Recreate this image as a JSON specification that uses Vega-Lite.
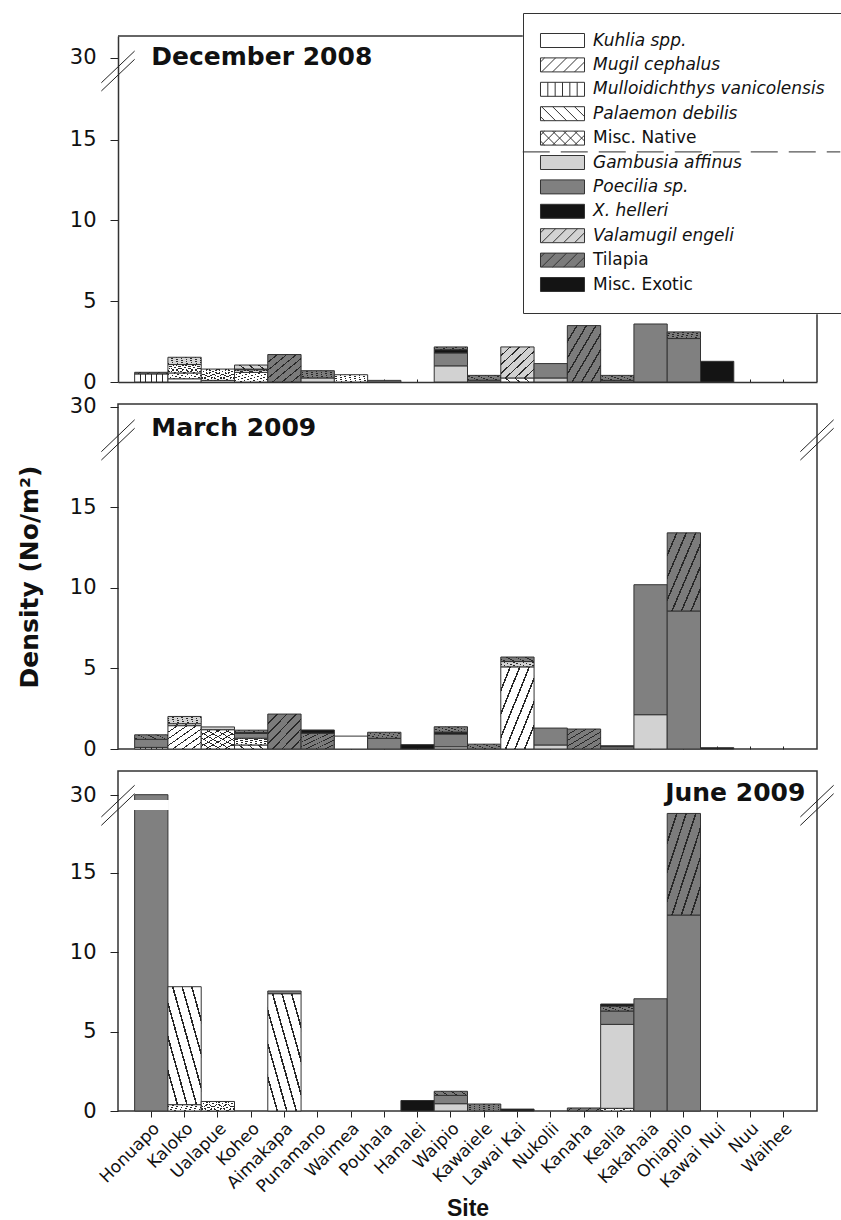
{
  "$schema": "https://vega.github.io/schema/vega-lite/v6.json",
  "background": "white",
  "padding": {"left": 16, "top": 12, "right": 0, "bottom": 0},
  "bounds": "flush",
  "spacing": 22,
  "config": {
    "view": {"stroke": "#333", "strokeWidth": 1.5},
    "axis": {"grid": false, "labelFont": "DejaVu Sans", "labelColor": "#111", "tickColor": "#222", "domainColor": "#333", "domainWidth": 1.5, "titleColor": "#111"}
  },
  "resolve": {"scale": {"fill": "independent"}, "legend": {"fill": "independent"}},
  "datasets": {
    "species": [
      {"species": "Kuhlia spp.", "rank": 1},
      {"species": "Mugil cephalus", "rank": 2},
      {"species": "Mulloidichthys vanicolensis", "rank": 3},
      {"species": "Palaemon debilis", "rank": 4},
      {"species": "Misc. Native", "rank": 5},
      {"species": "Gambusia affinus", "rank": 6},
      {"species": "Poecilia sp.", "rank": 7},
      {"species": "X. helleri", "rank": 8},
      {"species": "Valamugil engeli", "rank": 9},
      {"species": "Tilapia", "rank": 10},
      {"species": "Misc. Exotic", "rank": 11}
    ],
    "fish": [
      {"month": "Dec", "site": "Honuapo", "species": "Mulloidichthys vanicolensis", "value": 0.5},
      {"month": "Dec", "site": "Honuapo", "species": "Tilapia", "value": 0.1},
      {"month": "Dec", "site": "Kaloko", "species": "Kuhlia spp.", "value": 0.2},
      {"month": "Dec", "site": "Kaloko", "species": "Mugil cephalus", "value": 0.36},
      {"month": "Dec", "site": "Kaloko", "species": "Misc. Native", "value": 0.52},
      {"month": "Dec", "site": "Kaloko", "species": "Valamugil engeli", "value": 0.45},
      {"month": "Dec", "site": "Ualapue", "species": "Kuhlia spp.", "value": 0.1},
      {"month": "Dec", "site": "Ualapue", "species": "Misc. Native", "value": 0.7},
      {"month": "Dec", "site": "Koheo", "species": "Mugil cephalus", "value": 0.6},
      {"month": "Dec", "site": "Koheo", "species": "Misc. Native", "value": 0.15},
      {"month": "Dec", "site": "Koheo", "species": "Poecilia sp.", "value": 0.05},
      {"month": "Dec", "site": "Koheo", "species": "Valamugil engeli", "value": 0.25},
      {"month": "Dec", "site": "Aimakapa", "species": "Tilapia", "value": 1.7},
      {"month": "Dec", "site": "Punamano", "species": "Gambusia affinus", "value": 0.25},
      {"month": "Dec", "site": "Punamano", "species": "Tilapia", "value": 0.45},
      {"month": "Dec", "site": "Waimea", "species": "Mugil cephalus", "value": 0.45},
      {"month": "Dec", "site": "Pouhala", "species": "Poecilia sp.", "value": 0.1},
      {"month": "Dec", "site": "Waipio", "species": "Gambusia affinus", "value": 1.0},
      {"month": "Dec", "site": "Waipio", "species": "Poecilia sp.", "value": 0.8},
      {"month": "Dec", "site": "Waipio", "species": "X. helleri", "value": 0.2},
      {"month": "Dec", "site": "Waipio", "species": "Tilapia", "value": 0.17},
      {"month": "Dec", "site": "Kawaiele", "species": "Poecilia sp.", "value": 0.11},
      {"month": "Dec", "site": "Kawaiele", "species": "Tilapia", "value": 0.3},
      {"month": "Dec", "site": "Lawai Kai", "species": "Mugil cephalus", "value": 0.25},
      {"month": "Dec", "site": "Lawai Kai", "species": "Valamugil engeli", "value": 1.92},
      {"month": "Dec", "site": "Nukolii", "species": "Gambusia affinus", "value": 0.25},
      {"month": "Dec", "site": "Nukolii", "species": "Poecilia sp.", "value": 0.89},
      {"month": "Dec", "site": "Kanaha", "species": "Tilapia", "value": 3.49},
      {"month": "Dec", "site": "Kealia", "species": "Poecilia sp.", "value": 0.1},
      {"month": "Dec", "site": "Kealia", "species": "Tilapia", "value": 0.31},
      {"month": "Dec", "site": "Kakahaia", "species": "Poecilia sp.", "value": 3.59},
      {"month": "Dec", "site": "Ohiapilo", "species": "Poecilia sp.", "value": 2.69},
      {"month": "Dec", "site": "Ohiapilo", "species": "Tilapia", "value": 0.41},
      {"month": "Dec", "site": "Kawai Nui", "species": "Misc. Exotic", "value": 1.28},

      {"month": "Mar", "site": "Honuapo", "species": "Mulloidichthys vanicolensis", "value": 0.1},
      {"month": "Mar", "site": "Honuapo", "species": "Poecilia sp.", "value": 0.5},
      {"month": "Mar", "site": "Honuapo", "species": "Tilapia", "value": 0.28},
      {"month": "Mar", "site": "Kaloko", "species": "Mugil cephalus", "value": 1.45},
      {"month": "Mar", "site": "Kaloko", "species": "Palaemon debilis", "value": 0.12},
      {"month": "Mar", "site": "Kaloko", "species": "Valamugil engeli", "value": 0.45},
      {"month": "Mar", "site": "Ualapue", "species": "Misc. Native", "value": 1.2},
      {"month": "Mar", "site": "Ualapue", "species": "Gambusia affinus", "value": 0.17},
      {"month": "Mar", "site": "Koheo", "species": "Mugil cephalus", "value": 0.25},
      {"month": "Mar", "site": "Koheo", "species": "Misc. Native", "value": 0.42},
      {"month": "Mar", "site": "Koheo", "species": "Poecilia sp.", "value": 0.3},
      {"month": "Mar", "site": "Koheo", "species": "X. helleri", "value": 0.05},
      {"month": "Mar", "site": "Koheo", "species": "Tilapia", "value": 0.15},
      {"month": "Mar", "site": "Aimakapa", "species": "Tilapia", "value": 2.17},
      {"month": "Mar", "site": "Punamano", "species": "Tilapia", "value": 0.98},
      {"month": "Mar", "site": "Punamano", "species": "Misc. Exotic", "value": 0.2},
      {"month": "Mar", "site": "Waimea", "species": "Kuhlia spp.", "value": 0.8},
      {"month": "Mar", "site": "Pouhala", "species": "Poecilia sp.", "value": 0.66},
      {"month": "Mar", "site": "Pouhala", "species": "Tilapia", "value": 0.38},
      {"month": "Mar", "site": "Hanalei", "species": "X. helleri", "value": 0.27},
      {"month": "Mar", "site": "Waipio", "species": "Gambusia affinus", "value": 0.14},
      {"month": "Mar", "site": "Waipio", "species": "Poecilia sp.", "value": 0.79},
      {"month": "Mar", "site": "Waipio", "species": "X. helleri", "value": 0.12},
      {"month": "Mar", "site": "Waipio", "species": "Tilapia", "value": 0.33},
      {"month": "Mar", "site": "Kawaiele", "species": "Tilapia", "value": 0.3},
      {"month": "Mar", "site": "Lawai Kai", "species": "Mugil cephalus", "value": 5.1},
      {"month": "Mar", "site": "Lawai Kai", "species": "Valamugil engeli", "value": 0.33},
      {"month": "Mar", "site": "Lawai Kai", "species": "Tilapia", "value": 0.28},
      {"month": "Mar", "site": "Nukolii", "species": "Gambusia affinus", "value": 0.25},
      {"month": "Mar", "site": "Nukolii", "species": "Poecilia sp.", "value": 1.05},
      {"month": "Mar", "site": "Kanaha", "species": "Tilapia", "value": 1.24},
      {"month": "Mar", "site": "Kealia", "species": "Poecilia sp.", "value": 0.14},
      {"month": "Mar", "site": "Kealia", "species": "Misc. Exotic", "value": 0.06},
      {"month": "Mar", "site": "Kakahaia", "species": "Gambusia affinus", "value": 2.13},
      {"month": "Mar", "site": "Kakahaia", "species": "Poecilia sp.", "value": 8.07},
      {"month": "Mar", "site": "Ohiapilo", "species": "Poecilia sp.", "value": 8.57},
      {"month": "Mar", "site": "Ohiapilo", "species": "Tilapia", "value": 4.85},
      {"month": "Mar", "site": "Kawai Nui", "species": "Misc. Exotic", "value": 0.08},

      {"month": "Jun", "site": "Honuapo", "species": "Poecilia sp.", "value": 30.05},
      {"month": "Jun", "site": "Kaloko", "species": "Mugil cephalus", "value": 0.4},
      {"month": "Jun", "site": "Kaloko", "species": "Palaemon debilis", "value": 7.42},
      {"month": "Jun", "site": "Ualapue", "species": "Misc. Native", "value": 0.6},
      {"month": "Jun", "site": "Aimakapa", "species": "Palaemon debilis", "value": 7.38},
      {"month": "Jun", "site": "Aimakapa", "species": "Poecilia sp.", "value": 0.17},
      {"month": "Jun", "site": "Hanalei", "species": "X. helleri", "value": 0.66},
      {"month": "Jun", "site": "Waipio", "species": "Gambusia affinus", "value": 0.46},
      {"month": "Jun", "site": "Waipio", "species": "Poecilia sp.", "value": 0.52},
      {"month": "Jun", "site": "Waipio", "species": "Tilapia", "value": 0.26},
      {"month": "Jun", "site": "Kawaiele", "species": "Tilapia", "value": 0.44},
      {"month": "Jun", "site": "Lawai Kai", "species": "Misc. Exotic", "value": 0.12},
      {"month": "Jun", "site": "Kanaha", "species": "Tilapia", "value": 0.19},
      {"month": "Jun", "site": "Kealia", "species": "Mugil cephalus", "value": 0.17},
      {"month": "Jun", "site": "Kealia", "species": "Gambusia affinus", "value": 5.28},
      {"month": "Jun", "site": "Kealia", "species": "Poecilia sp.", "value": 0.84},
      {"month": "Jun", "site": "Kealia", "species": "Tilapia", "value": 0.31},
      {"month": "Jun", "site": "Kealia", "species": "Misc. Exotic", "value": 0.13},
      {"month": "Jun", "site": "Kakahaia", "species": "Poecilia sp.", "value": 7.06},
      {"month": "Jun", "site": "Ohiapilo", "species": "Poecilia sp.", "value": 12.33},
      {"month": "Jun", "site": "Ohiapilo", "species": "Tilapia", "value": 6.39}
    ]
  },
  "vconcat": [
    {
      "width": 699,
      "height": 346,
      "view": {"stroke": null},
      "layer": [
        {
          "data": {"name": "fish"},
          "transform": [
            {"filter": "datum.month === 'Dec'"},
            {"lookup": "species", "from": {"data": {"name": "species"}, "key": "species", "fields": ["rank"]}},
            {"stack": "value", "groupby": ["site"], "sort": [{"field": "rank", "order": "ascending"}], "as": ["y0", "y1"]}
          ],
          "layer": [
            {
              "mark": {"type": "bar", "stroke": "#333", "strokeWidth": 1},
              "encoding": {
                "x": {"field": "site", "type": "nominal", "scale": {"type": "band", "domain": ["Honuapo","Kaloko","Ualapue","Koheo","Aimakapa","Punamano","Waimea","Pouhala","Hanalei","Waipio","Kawaiele","Lawai Kai","Nukolii","Kanaha","Kealia","Kakahaia","Ohiapilo","Kawai Nui","Nuu","Waihee"], "paddingInner": 0, "paddingOuter": 0.5}, "axis": {"labels": false, "ticks": true, "tickSize": -3, "domain": true, "title": null}},
                "y": {"field": "y1", "type": "quantitative", "scale": {"domain": [0, 19, 29, 32.3], "range": [346, 39, 31, 0], "nice": false, "zero": false}, "axis": {"values": [0, 5, 10, 15, 30], "labelFontSize": 21, "labelPadding": 14, "tickSize": 8, "domain": true, "title": null}},
                "y2": {"field": "y0"},
                "fill": {
                  "field": "species", "type": "nominal",
                  "scale": {"domain": ["Kuhlia spp.","Mugil cephalus","Mulloidichthys vanicolensis","Palaemon debilis","Misc. Native","Gambusia affinus","Poecilia sp.","X. helleri","Valamugil engeli","Tilapia","Misc. Exotic"], "range": ["#ffffff","#ffffff","#ffffff","#ffffff","#ffffff","#d2d2d2","#808080","#141414","#d2d2d2","#7b7b7b","#141414"]},
                  "legend": {
                    "orient": "none", "legendX": 405, "legendY": -23, "title": null, "padding": 19,
                    "strokeColor": "#333", "fillColor": "transparent",
                    "symbolType": {"expr": "indexof(['Mugil cephalus','Valamugil engeli','Tilapia'], datum.value) >= 0 ? 'M-3.143,-1H3.143V1H-3.143Z M-3.143,-0.415L-2.558,-1 M-2.986,1L-0.987,-1 M-1.414,1L0.585,-1 M0.157,1L2.156,-1 M1.729,1L3.143,-0.415' : datum.value === 'Palaemon debilis' ? 'M-3.143,-1H3.143V1H-3.143Z M-3.143,0.415L-2.558,1 M-2.986,-1L-0.987,1 M-1.414,-1L0.585,1 M0.157,-1L2.156,1 M1.729,-1L3.143,0.415' : datum.value === 'Misc. Native' ? 'M-3.143,-1H3.143V1H-3.143Z M-3.143,-0.415L-2.558,-1 M-2.986,1L-0.987,-1 M-1.414,1L0.585,-1 M0.157,1L2.156,-1 M1.729,1L3.143,-0.415 M-3.143,0.415L-2.558,1 M-2.986,-1L-0.987,1 M-1.414,-1L0.585,1 M0.157,-1L2.156,1 M1.729,-1L3.143,0.415' : datum.value === 'Mulloidichthys vanicolensis' ? 'M-3.143,-1H3.143V1H-3.143Z M-2.096,-1V1 M-1.047,-1V1 M0,-1V1 M1.047,-1V1 M2.096,-1V1' : 'M-3.143,-1H3.143V1H-3.143Z'"},
                    "symbolSize": 196, "symbolStrokeColor": "#333", "symbolStrokeWidth": 1, "symbolOpacity": 1, "symbolOffset": 12,
                    "labelFont": "DejaVu Sans", "labelFontSize": 17, "labelColor": "#111",
                    "labelFontStyle": {"expr": "indexof(['Misc. Native','Tilapia','Misc. Exotic'], datum.label) >= 0 ? 'normal' : 'italic'"},
                    "labelOffset": 22, "labelLimit": 400, "rowPadding": 5.4
                  }
                }
              }
            },
            {
              "transform": [{"filter": {"field": "species", "oneOf": ["Mugil cephalus", "Misc. Native", "Valamugil engeli", "Tilapia"]}}],
              "mark": {"type": "bar", "strokeWidth": 0, "fill": {"gradient": "linear", "x1": 0, "y1": 0, "x2": 1, "y2": 1, "stops": [
                {"offset": 0, "color": "rgba(40,40,40,0)"}, {"offset": 0.131, "color": "rgba(40,40,40,0)"}, {"offset": 0.131, "color": "#282828"}, {"offset": 0.155, "color": "#282828"}, {"offset": 0.155, "color": "rgba(40,40,40,0)"},
                {"offset": 0.274, "color": "rgba(40,40,40,0)"}, {"offset": 0.274, "color": "#282828"}, {"offset": 0.298, "color": "#282828"}, {"offset": 0.298, "color": "rgba(40,40,40,0)"},
                {"offset": 0.417, "color": "rgba(40,40,40,0)"}, {"offset": 0.417, "color": "#282828"}, {"offset": 0.441, "color": "#282828"}, {"offset": 0.441, "color": "rgba(40,40,40,0)"},
                {"offset": 0.559, "color": "rgba(40,40,40,0)"}, {"offset": 0.559, "color": "#282828"}, {"offset": 0.583, "color": "#282828"}, {"offset": 0.583, "color": "rgba(40,40,40,0)"},
                {"offset": 0.702, "color": "rgba(40,40,40,0)"}, {"offset": 0.702, "color": "#282828"}, {"offset": 0.726, "color": "#282828"}, {"offset": 0.726, "color": "rgba(40,40,40,0)"},
                {"offset": 0.845, "color": "rgba(40,40,40,0)"}, {"offset": 0.845, "color": "#282828"}, {"offset": 0.869, "color": "#282828"}, {"offset": 0.869, "color": "rgba(40,40,40,0)"},
                {"offset": 1, "color": "rgba(40,40,40,0)"}]}},
              "encoding": {"x": {"field": "site", "type": "nominal"}, "y": {"field": "y1", "type": "quantitative"}, "y2": {"field": "y0"}}
            },
            {
              "transform": [{"filter": {"field": "species", "oneOf": ["Palaemon debilis", "Misc. Native"]}}],
              "mark": {"type": "bar", "strokeWidth": 0, "fill": {"gradient": "linear", "x1": 0, "y1": 1, "x2": 1, "y2": 0, "stops": [
                {"offset": 0, "color": "rgba(40,40,40,0)"}, {"offset": 0.131, "color": "rgba(40,40,40,0)"}, {"offset": 0.131, "color": "#282828"}, {"offset": 0.155, "color": "#282828"}, {"offset": 0.155, "color": "rgba(40,40,40,0)"},
                {"offset": 0.274, "color": "rgba(40,40,40,0)"}, {"offset": 0.274, "color": "#282828"}, {"offset": 0.298, "color": "#282828"}, {"offset": 0.298, "color": "rgba(40,40,40,0)"},
                {"offset": 0.417, "color": "rgba(40,40,40,0)"}, {"offset": 0.417, "color": "#282828"}, {"offset": 0.441, "color": "#282828"}, {"offset": 0.441, "color": "rgba(40,40,40,0)"},
                {"offset": 0.559, "color": "rgba(40,40,40,0)"}, {"offset": 0.559, "color": "#282828"}, {"offset": 0.583, "color": "#282828"}, {"offset": 0.583, "color": "rgba(40,40,40,0)"},
                {"offset": 0.702, "color": "rgba(40,40,40,0)"}, {"offset": 0.702, "color": "#282828"}, {"offset": 0.726, "color": "#282828"}, {"offset": 0.726, "color": "rgba(40,40,40,0)"},
                {"offset": 0.845, "color": "rgba(40,40,40,0)"}, {"offset": 0.845, "color": "#282828"}, {"offset": 0.869, "color": "#282828"}, {"offset": 0.869, "color": "rgba(40,40,40,0)"},
                {"offset": 1, "color": "rgba(40,40,40,0)"}]}},
              "encoding": {"x": {"field": "site", "type": "nominal"}, "y": {"field": "y1", "type": "quantitative"}, "y2": {"field": "y0"}}
            },
            {
              "transform": [{"filter": {"field": "species", "oneOf": ["Mulloidichthys vanicolensis"]}}],
              "mark": {"type": "bar", "strokeWidth": 0, "fill": {"gradient": "linear", "x1": 0, "y1": 0, "x2": 1, "y2": 0, "stops": [
                {"offset": 0, "color": "rgba(40,40,40,0)"}, {"offset": 0.152, "color": "rgba(40,40,40,0)"}, {"offset": 0.152, "color": "#282828"}, {"offset": 0.182, "color": "#282828"}, {"offset": 0.182, "color": "rgba(40,40,40,0)"},
                {"offset": 0.318, "color": "rgba(40,40,40,0)"}, {"offset": 0.318, "color": "#282828"}, {"offset": 0.348, "color": "#282828"}, {"offset": 0.348, "color": "rgba(40,40,40,0)"},
                {"offset": 0.485, "color": "rgba(40,40,40,0)"}, {"offset": 0.485, "color": "#282828"}, {"offset": 0.515, "color": "#282828"}, {"offset": 0.515, "color": "rgba(40,40,40,0)"},
                {"offset": 0.652, "color": "rgba(40,40,40,0)"}, {"offset": 0.652, "color": "#282828"}, {"offset": 0.682, "color": "#282828"}, {"offset": 0.682, "color": "rgba(40,40,40,0)"},
                {"offset": 0.818, "color": "rgba(40,40,40,0)"}, {"offset": 0.818, "color": "#282828"}, {"offset": 0.848, "color": "#282828"}, {"offset": 0.848, "color": "rgba(40,40,40,0)"},
                {"offset": 1, "color": "rgba(40,40,40,0)"}]}},
              "encoding": {"x": {"field": "site", "type": "nominal"}, "y": {"field": "y1", "type": "quantitative"}, "y2": {"field": "y0"}}
            }
          ]
        },
        {
          "data": {"values": [{}]},
          "mark": {"type": "text", "font": "DejaVu Sans", "fontSize": 25, "fontWeight": "bold", "align": "left", "baseline": "alphabetic", "color": "#111"},
          "encoding": {"x": {"datum": "Honuapo", "type": "nominal"}, "y": {"datum": 29.2, "type": "quantitative"}, "text": {"value": "December 2008"}}
        },
        {
          "data": {"values": [{}]},
          "mark": {"type": "rule", "color": "#333", "strokeWidth": 1.5},
          "encoding": {"x": {"datum": "Honuapo", "type": "nominal", "bandPosition": -0.5}, "x2": {"datum": "Lawai Kai", "bandPosition": 0.66}, "y": {"datum": 32.3, "type": "quantitative"}}
        },
        {
          "data": {"values": [{}]},
          "mark": {"type": "rule", "color": "#333", "strokeWidth": 1.5},
          "encoding": {"x": {"datum": "Waihee", "type": "nominal", "bandPosition": 1.5}, "y": {"datum": 0, "type": "quantitative"}, "y2": {"datum": 4.2}}
        },
        {
          "data": {"values": [{}]},
          "mark": {"type": "rule", "color": "#555", "strokeWidth": 1.3, "strokeDash": [27, 11]},
          "encoding": {"x": {"datum": "Lawai Kai", "type": "nominal", "bandPosition": 0.66}, "x2": {"datum": "Waihee", "bandPosition": 2.2}, "y": {"datum": 14.24, "type": "quantitative"}}
        },
        {
          "data": {"values": [{}]},
          "encoding": {"x": {"datum": "Honuapo", "type": "nominal", "bandPosition": -1}, "x2": {"datum": "Honuapo", "bandPosition": 0}},
          "layer": [
            {"mark": {"type": "rule", "color": "#222", "strokeWidth": 1}, "encoding": {"y": {"datum": 18.52, "type": "quantitative"}, "y2": {"datum": 30.7}}},
            {"mark": {"type": "rule", "color": "#222", "strokeWidth": 1}, "encoding": {"y": {"datum": 18.01, "type": "quantitative"}, "y2": {"datum": 29.82}}}
          ]
        }
      ]
    },
    {
      "width": 699,
      "height": 345,
      "layer": [
        {
          "data": {"name": "fish"},
          "transform": [
            {"filter": "datum.month === 'Mar'"},
            {"lookup": "species", "from": {"data": {"name": "species"}, "key": "species", "fields": ["rank"]}},
            {"stack": "value", "groupby": ["site"], "sort": [{"field": "rank", "order": "ascending"}], "as": ["y0", "y1"]}
          ],
          "layer": [
            {
              "mark": {"type": "bar", "stroke": "#333", "strokeWidth": 1},
              "encoding": {
                "x": {"field": "site", "type": "nominal", "scale": {"type": "band", "domain": ["Honuapo","Kaloko","Ualapue","Koheo","Aimakapa","Punamano","Waimea","Pouhala","Hanalei","Waipio","Kawaiele","Lawai Kai","Nukolii","Kanaha","Kealia","Kakahaia","Ohiapilo","Kawai Nui","Nuu","Waihee"], "paddingInner": 0, "paddingOuter": 0.5}, "axis": {"labels": false, "ticks": true, "tickSize": -3, "domain": false, "title": null}},
                "y": {"field": "y1", "type": "quantitative", "scale": {"domain": [0, 19, 29, 30.1], "range": [345, 39, 31, 0], "nice": false, "zero": false}, "axis": {"values": [0, 5, 10, 15, 30], "labelFontSize": 21, "labelPadding": 14, "tickSize": 8, "domain": false, "title": "Density (No/m²)", "titleFont": "DejaVu Sans", "titleFontSize": 25, "titleFontWeight": "bold", "titlePadding": 27}},
                "y2": {"field": "y0"},
                "fill": {
                  "field": "species", "type": "nominal",
                  "scale": {"domain": ["Kuhlia spp.","Mugil cephalus","Mulloidichthys vanicolensis","Palaemon debilis","Misc. Native","Gambusia affinus","Poecilia sp.","X. helleri","Valamugil engeli","Tilapia","Misc. Exotic"], "range": ["#ffffff","#ffffff","#ffffff","#ffffff","#ffffff","#d2d2d2","#808080","#141414","#d2d2d2","#7b7b7b","#141414"]},
                  "legend": null
                }
              }
            },
            {
              "transform": [{"filter": {"field": "species", "oneOf": ["Mugil cephalus", "Misc. Native", "Valamugil engeli", "Tilapia"]}}],
              "mark": {"type": "bar", "strokeWidth": 0, "fill": {"gradient": "linear", "x1": 0, "y1": 0, "x2": 1, "y2": 1, "stops": [
                {"offset": 0, "color": "rgba(40,40,40,0)"}, {"offset": 0.131, "color": "rgba(40,40,40,0)"}, {"offset": 0.131, "color": "#282828"}, {"offset": 0.155, "color": "#282828"}, {"offset": 0.155, "color": "rgba(40,40,40,0)"},
                {"offset": 0.274, "color": "rgba(40,40,40,0)"}, {"offset": 0.274, "color": "#282828"}, {"offset": 0.298, "color": "#282828"}, {"offset": 0.298, "color": "rgba(40,40,40,0)"},
                {"offset": 0.417, "color": "rgba(40,40,40,0)"}, {"offset": 0.417, "color": "#282828"}, {"offset": 0.441, "color": "#282828"}, {"offset": 0.441, "color": "rgba(40,40,40,0)"},
                {"offset": 0.559, "color": "rgba(40,40,40,0)"}, {"offset": 0.559, "color": "#282828"}, {"offset": 0.583, "color": "#282828"}, {"offset": 0.583, "color": "rgba(40,40,40,0)"},
                {"offset": 0.702, "color": "rgba(40,40,40,0)"}, {"offset": 0.702, "color": "#282828"}, {"offset": 0.726, "color": "#282828"}, {"offset": 0.726, "color": "rgba(40,40,40,0)"},
                {"offset": 0.845, "color": "rgba(40,40,40,0)"}, {"offset": 0.845, "color": "#282828"}, {"offset": 0.869, "color": "#282828"}, {"offset": 0.869, "color": "rgba(40,40,40,0)"},
                {"offset": 1, "color": "rgba(40,40,40,0)"}]}},
              "encoding": {"x": {"field": "site", "type": "nominal"}, "y": {"field": "y1", "type": "quantitative"}, "y2": {"field": "y0"}}
            },
            {
              "transform": [{"filter": {"field": "species", "oneOf": ["Palaemon debilis", "Misc. Native"]}}],
              "mark": {"type": "bar", "strokeWidth": 0, "fill": {"gradient": "linear", "x1": 0, "y1": 1, "x2": 1, "y2": 0, "stops": [
                {"offset": 0, "color": "rgba(40,40,40,0)"}, {"offset": 0.131, "color": "rgba(40,40,40,0)"}, {"offset": 0.131, "color": "#282828"}, {"offset": 0.155, "color": "#282828"}, {"offset": 0.155, "color": "rgba(40,40,40,0)"},
                {"offset": 0.274, "color": "rgba(40,40,40,0)"}, {"offset": 0.274, "color": "#282828"}, {"offset": 0.298, "color": "#282828"}, {"offset": 0.298, "color": "rgba(40,40,40,0)"},
                {"offset": 0.417, "color": "rgba(40,40,40,0)"}, {"offset": 0.417, "color": "#282828"}, {"offset": 0.441, "color": "#282828"}, {"offset": 0.441, "color": "rgba(40,40,40,0)"},
                {"offset": 0.559, "color": "rgba(40,40,40,0)"}, {"offset": 0.559, "color": "#282828"}, {"offset": 0.583, "color": "#282828"}, {"offset": 0.583, "color": "rgba(40,40,40,0)"},
                {"offset": 0.702, "color": "rgba(40,40,40,0)"}, {"offset": 0.702, "color": "#282828"}, {"offset": 0.726, "color": "#282828"}, {"offset": 0.726, "color": "rgba(40,40,40,0)"},
                {"offset": 0.845, "color": "rgba(40,40,40,0)"}, {"offset": 0.845, "color": "#282828"}, {"offset": 0.869, "color": "#282828"}, {"offset": 0.869, "color": "rgba(40,40,40,0)"},
                {"offset": 1, "color": "rgba(40,40,40,0)"}]}},
              "encoding": {"x": {"field": "site", "type": "nominal"}, "y": {"field": "y1", "type": "quantitative"}, "y2": {"field": "y0"}}
            },
            {
              "transform": [{"filter": {"field": "species", "oneOf": ["Mulloidichthys vanicolensis"]}}],
              "mark": {"type": "bar", "strokeWidth": 0, "fill": {"gradient": "linear", "x1": 0, "y1": 0, "x2": 1, "y2": 0, "stops": [
                {"offset": 0, "color": "rgba(40,40,40,0)"}, {"offset": 0.152, "color": "rgba(40,40,40,0)"}, {"offset": 0.152, "color": "#282828"}, {"offset": 0.182, "color": "#282828"}, {"offset": 0.182, "color": "rgba(40,40,40,0)"},
                {"offset": 0.318, "color": "rgba(40,40,40,0)"}, {"offset": 0.318, "color": "#282828"}, {"offset": 0.348, "color": "#282828"}, {"offset": 0.348, "color": "rgba(40,40,40,0)"},
                {"offset": 0.485, "color": "rgba(40,40,40,0)"}, {"offset": 0.485, "color": "#282828"}, {"offset": 0.515, "color": "#282828"}, {"offset": 0.515, "color": "rgba(40,40,40,0)"},
                {"offset": 0.652, "color": "rgba(40,40,40,0)"}, {"offset": 0.652, "color": "#282828"}, {"offset": 0.682, "color": "#282828"}, {"offset": 0.682, "color": "rgba(40,40,40,0)"},
                {"offset": 0.818, "color": "rgba(40,40,40,0)"}, {"offset": 0.818, "color": "#282828"}, {"offset": 0.848, "color": "#282828"}, {"offset": 0.848, "color": "rgba(40,40,40,0)"},
                {"offset": 1, "color": "rgba(40,40,40,0)"}]}},
              "encoding": {"x": {"field": "site", "type": "nominal"}, "y": {"field": "y1", "type": "quantitative"}, "y2": {"field": "y0"}}
            }
          ]
        },
        {
          "data": {"values": [{}]},
          "mark": {"type": "text", "font": "DejaVu Sans", "fontSize": 25, "fontWeight": "bold", "align": "left", "baseline": "alphabetic", "color": "#111"},
          "encoding": {"x": {"datum": "Honuapo", "type": "nominal"}, "y": {"datum": 27.75, "type": "quantitative"}, "text": {"value": "March 2009"}}
        },
        {
          "data": {"values": [{}]},
          "encoding": {"x": {"datum": "Honuapo", "type": "nominal", "bandPosition": -1}, "x2": {"datum": "Honuapo", "bandPosition": 0}},
          "layer": [
            {"mark": {"type": "rule", "color": "#222", "strokeWidth": 1}, "encoding": {"y": {"datum": 18.46, "type": "quantitative"}, "y2": {"datum": 29.54}}},
            {"mark": {"type": "rule", "color": "#222", "strokeWidth": 1}, "encoding": {"y": {"datum": 17.94, "type": "quantitative"}, "y2": {"datum": 29.24}}}
          ]
        },
        {
          "data": {"values": [{}]},
          "encoding": {"x": {"datum": "Waihee", "type": "nominal", "bandPosition": 1}, "x2": {"datum": "Waihee", "bandPosition": 2}},
          "layer": [
            {"mark": {"type": "rule", "color": "#222", "strokeWidth": 1}, "encoding": {"y": {"datum": 18.46, "type": "quantitative"}, "y2": {"datum": 29.54}}},
            {"mark": {"type": "rule", "color": "#222", "strokeWidth": 1}, "encoding": {"y": {"datum": 17.94, "type": "quantitative"}, "y2": {"datum": 29.24}}}
          ]
        }
      ]
    },
    {
      "width": 699,
      "height": 340,
      "layer": [
        {
          "data": {"name": "fish"},
          "transform": [
            {"filter": "datum.month === 'Jun'"},
            {"lookup": "species", "from": {"data": {"name": "species"}, "key": "species", "fields": ["rank"]}},
            {"stack": "value", "groupby": ["site"], "sort": [{"field": "rank", "order": "ascending"}], "as": ["y0", "y1"]}
          ],
          "layer": [
            {
              "mark": {"type": "bar", "stroke": "#333", "strokeWidth": 1},
              "encoding": {
                "x": {"field": "site", "type": "nominal", "scale": {"type": "band", "domain": ["Honuapo","Kaloko","Ualapue","Koheo","Aimakapa","Punamano","Waimea","Pouhala","Hanalei","Waipio","Kawaiele","Lawai Kai","Nukolii","Kanaha","Kealia","Kakahaia","Ohiapilo","Kawai Nui","Nuu","Waihee"], "paddingInner": 0, "paddingOuter": 0.5}, "axis": {"labelAngle": -45, "labelFont": "DejaVu Sans", "labelFontSize": 17, "labelPadding": 3, "tickSize": 6, "domain": false, "title": "Site", "titleFont": "Liberation Sans", "titleFontSize": 23, "titleFontWeight": "bold", "titlePadding": 2}},
                "y": {"field": "y1", "type": "quantitative", "scale": {"domain": [0, 19, 29, 34], "range": [340, 38, 30, 0], "nice": false, "zero": false}, "axis": {"values": [0, 5, 10, 15, 30], "labelFontSize": 21, "labelPadding": 14, "tickSize": 8, "domain": false, "title": null}},
                "y2": {"field": "y0"},
                "fill": {
                  "field": "species", "type": "nominal",
                  "scale": {"domain": ["Kuhlia spp.","Mugil cephalus","Mulloidichthys vanicolensis","Palaemon debilis","Misc. Native","Gambusia affinus","Poecilia sp.","X. helleri","Valamugil engeli","Tilapia","Misc. Exotic"], "range": ["#ffffff","#ffffff","#ffffff","#ffffff","#ffffff","#d2d2d2","#808080","#141414","#d2d2d2","#7b7b7b","#141414"]},
                  "legend": null
                }
              }
            },
            {
              "transform": [{"filter": {"field": "species", "oneOf": ["Mugil cephalus", "Misc. Native", "Valamugil engeli", "Tilapia"]}}],
              "mark": {"type": "bar", "strokeWidth": 0, "fill": {"gradient": "linear", "x1": 0, "y1": 0, "x2": 1, "y2": 1, "stops": [
                {"offset": 0, "color": "rgba(40,40,40,0)"}, {"offset": 0.131, "color": "rgba(40,40,40,0)"}, {"offset": 0.131, "color": "#282828"}, {"offset": 0.155, "color": "#282828"}, {"offset": 0.155, "color": "rgba(40,40,40,0)"},
                {"offset": 0.274, "color": "rgba(40,40,40,0)"}, {"offset": 0.274, "color": "#282828"}, {"offset": 0.298, "color": "#282828"}, {"offset": 0.298, "color": "rgba(40,40,40,0)"},
                {"offset": 0.417, "color": "rgba(40,40,40,0)"}, {"offset": 0.417, "color": "#282828"}, {"offset": 0.441, "color": "#282828"}, {"offset": 0.441, "color": "rgba(40,40,40,0)"},
                {"offset": 0.559, "color": "rgba(40,40,40,0)"}, {"offset": 0.559, "color": "#282828"}, {"offset": 0.583, "color": "#282828"}, {"offset": 0.583, "color": "rgba(40,40,40,0)"},
                {"offset": 0.702, "color": "rgba(40,40,40,0)"}, {"offset": 0.702, "color": "#282828"}, {"offset": 0.726, "color": "#282828"}, {"offset": 0.726, "color": "rgba(40,40,40,0)"},
                {"offset": 0.845, "color": "rgba(40,40,40,0)"}, {"offset": 0.845, "color": "#282828"}, {"offset": 0.869, "color": "#282828"}, {"offset": 0.869, "color": "rgba(40,40,40,0)"},
                {"offset": 1, "color": "rgba(40,40,40,0)"}]}},
              "encoding": {"x": {"field": "site", "type": "nominal"}, "y": {"field": "y1", "type": "quantitative"}, "y2": {"field": "y0"}}
            },
            {
              "transform": [{"filter": {"field": "species", "oneOf": ["Palaemon debilis", "Misc. Native"]}}],
              "mark": {"type": "bar", "strokeWidth": 0, "fill": {"gradient": "linear", "x1": 0, "y1": 1, "x2": 1, "y2": 0, "stops": [
                {"offset": 0, "color": "rgba(40,40,40,0)"}, {"offset": 0.131, "color": "rgba(40,40,40,0)"}, {"offset": 0.131, "color": "#282828"}, {"offset": 0.155, "color": "#282828"}, {"offset": 0.155, "color": "rgba(40,40,40,0)"},
                {"offset": 0.274, "color": "rgba(40,40,40,0)"}, {"offset": 0.274, "color": "#282828"}, {"offset": 0.298, "color": "#282828"}, {"offset": 0.298, "color": "rgba(40,40,40,0)"},
                {"offset": 0.417, "color": "rgba(40,40,40,0)"}, {"offset": 0.417, "color": "#282828"}, {"offset": 0.441, "color": "#282828"}, {"offset": 0.441, "color": "rgba(40,40,40,0)"},
                {"offset": 0.559, "color": "rgba(40,40,40,0)"}, {"offset": 0.559, "color": "#282828"}, {"offset": 0.583, "color": "#282828"}, {"offset": 0.583, "color": "rgba(40,40,40,0)"},
                {"offset": 0.702, "color": "rgba(40,40,40,0)"}, {"offset": 0.702, "color": "#282828"}, {"offset": 0.726, "color": "#282828"}, {"offset": 0.726, "color": "rgba(40,40,40,0)"},
                {"offset": 0.845, "color": "rgba(40,40,40,0)"}, {"offset": 0.845, "color": "#282828"}, {"offset": 0.869, "color": "#282828"}, {"offset": 0.869, "color": "rgba(40,40,40,0)"},
                {"offset": 1, "color": "rgba(40,40,40,0)"}]}},
              "encoding": {"x": {"field": "site", "type": "nominal"}, "y": {"field": "y1", "type": "quantitative"}, "y2": {"field": "y0"}}
            },
            {
              "transform": [{"filter": {"field": "species", "oneOf": ["Mulloidichthys vanicolensis"]}}],
              "mark": {"type": "bar", "strokeWidth": 0, "fill": {"gradient": "linear", "x1": 0, "y1": 0, "x2": 1, "y2": 0, "stops": [
                {"offset": 0, "color": "rgba(40,40,40,0)"}, {"offset": 0.152, "color": "rgba(40,40,40,0)"}, {"offset": 0.152, "color": "#282828"}, {"offset": 0.182, "color": "#282828"}, {"offset": 0.182, "color": "rgba(40,40,40,0)"},
                {"offset": 0.318, "color": "rgba(40,40,40,0)"}, {"offset": 0.318, "color": "#282828"}, {"offset": 0.348, "color": "#282828"}, {"offset": 0.348, "color": "rgba(40,40,40,0)"},
                {"offset": 0.485, "color": "rgba(40,40,40,0)"}, {"offset": 0.485, "color": "#282828"}, {"offset": 0.515, "color": "#282828"}, {"offset": 0.515, "color": "rgba(40,40,40,0)"},
                {"offset": 0.652, "color": "rgba(40,40,40,0)"}, {"offset": 0.652, "color": "#282828"}, {"offset": 0.682, "color": "#282828"}, {"offset": 0.682, "color": "rgba(40,40,40,0)"},
                {"offset": 0.818, "color": "rgba(40,40,40,0)"}, {"offset": 0.818, "color": "#282828"}, {"offset": 0.848, "color": "#282828"}, {"offset": 0.848, "color": "rgba(40,40,40,0)"},
                {"offset": 1, "color": "rgba(40,40,40,0)"}]}},
              "encoding": {"x": {"field": "site", "type": "nominal"}, "y": {"field": "y1", "type": "quantitative"}, "y2": {"field": "y0"}}
            }
          ]
        },
        {
          "data": {"values": [{}]},
          "mark": {"type": "bar", "fill": "#ffffff", "stroke": "#ffffff", "strokeWidth": 2},
          "encoding": {"x": {"datum": "Honuapo", "type": "nominal"}, "y": {"datum": 19.0, "type": "quantitative"}, "y2": {"datum": 29.0}}
        },
        {
          "data": {"values": [{}]},
          "mark": {"type": "text", "font": "DejaVu Sans", "fontSize": 25, "fontWeight": "bold", "align": "right", "baseline": "alphabetic", "color": "#111"},
          "encoding": {"x": {"datum": "Waihee", "type": "nominal", "bandPosition": 1.15}, "y": {"datum": 29.0, "type": "quantitative"}, "text": {"value": "June 2009"}}
        },
        {
          "data": {"values": [{}]},
          "encoding": {"x": {"datum": "Honuapo", "type": "nominal", "bandPosition": -1}, "x2": {"datum": "Honuapo", "bandPosition": 0}},
          "layer": [
            {"mark": {"type": "rule", "color": "#222", "strokeWidth": 1}, "encoding": {"y": {"datum": 18.5, "type": "quantitative"}, "y2": {"datum": 31.62}}},
            {"mark": {"type": "rule", "color": "#222", "strokeWidth": 1}, "encoding": {"y": {"datum": 17.97, "type": "quantitative"}, "y2": {"datum": 30.22}}}
          ]
        },
        {
          "data": {"values": [{}]},
          "encoding": {"x": {"datum": "Waihee", "type": "nominal", "bandPosition": 1}, "x2": {"datum": "Waihee", "bandPosition": 2}},
          "layer": [
            {"mark": {"type": "rule", "color": "#222", "strokeWidth": 1}, "encoding": {"y": {"datum": 18.5, "type": "quantitative"}, "y2": {"datum": 31.62}}},
            {"mark": {"type": "rule", "color": "#222", "strokeWidth": 1}, "encoding": {"y": {"datum": 17.97, "type": "quantitative"}, "y2": {"datum": 30.22}}}
          ]
        }
      ]
    }
  ]
}
